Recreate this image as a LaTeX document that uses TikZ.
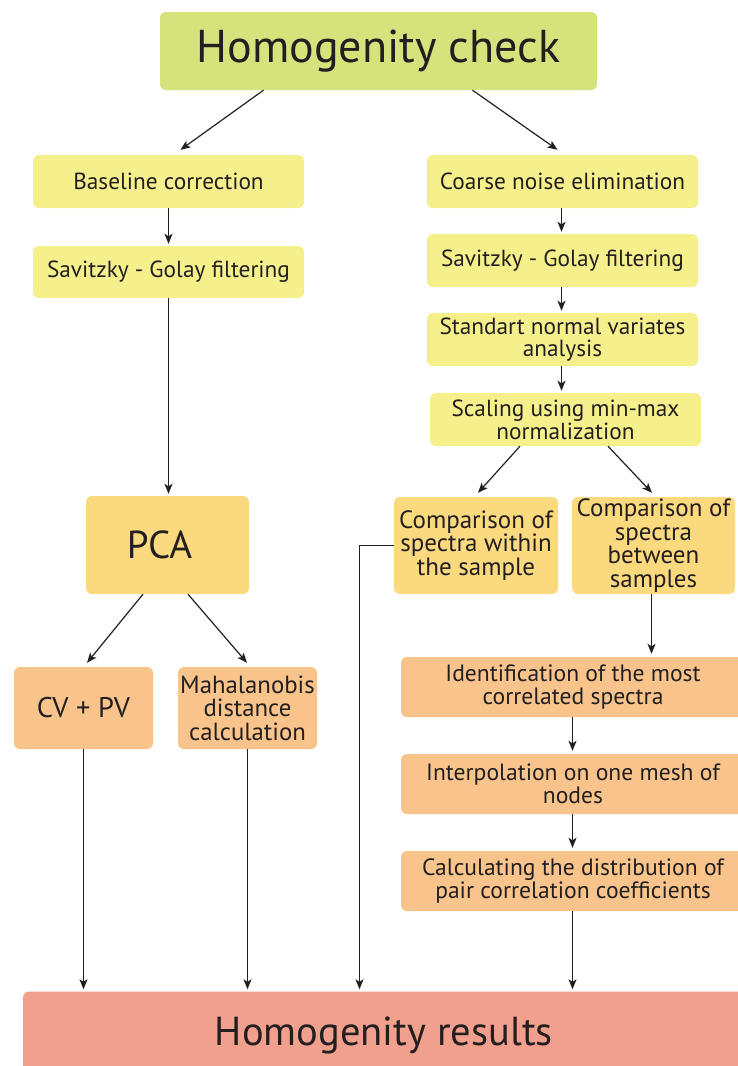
\documentclass[tikz,border=0pt]{standalone}
\usepackage{fontspec}
\setmainfont{PT Sans}
\usetikzlibrary{calc,arrows.meta}
\definecolor{cTop}{HTML}{D6E27C}
\definecolor{cYel}{HTML}{F6F08C}
\definecolor{cOrY}{HTML}{FBD97F}
\definecolor{cOr}{HTML}{F8C48C}
\definecolor{cRes}{HTML}{F0A08C}
\definecolor{cTxt}{HTML}{231F20}
\definecolor{cLine}{HTML}{231F20}
\tikzset{
  box/.style={rounded corners=6pt, inner sep=0pt, align=center, text=cTxt, anchor=center},
  smallbox/.style={box, fill=cYel, minimum width=271pt, minimum height=53pt, font=\fontsize{23.3}{22.7}\selectfont},
  midbox/.style={box, fill=cOrY, minimum width=164pt, minimum height=97pt, font=\fontsize{25}{23.4}\selectfont},
  orbox/.style={box, fill=cOr, font=\fontsize{23.6}{22.7}\selectfont},
  arr/.style={draw=cLine, line width=1.2pt, -{Stealth[length=10pt,width=8pt,inset=2.5pt]}}
}
\begin{document}
\begin{tikzpicture}[x=1pt,y=-1pt]
\useasboundingbox (0,0) rectangle (737,1066);
\fill[white] (0,0) rectangle (737,1066);
% nodes
\node[box, fill=cTop, minimum width=437pt, minimum height=78pt, font=\fontsize{46}{50}\selectfont] (top) at (378.5,51) {Homogenity check};
\node[smallbox] (base) at (168.5,181.5) {Baseline correction};
\node[smallbox, minimum height=52pt] (savL) at (168.5,272) {Savitzky - Golay filtering};
\node[smallbox] (coarse) at (562.5,181.5) {Coarse noise elimination};
\node[smallbox] (savR) at (562.5,260.5) {Savitzky - Golay filtering};
\node[smallbox] (snv) at (562.5,339.5) {Standart normal variates\\analysis};
\node[smallbox] (scal) at (565.5,419.5) {Scaling using min-max\\normalization};
\node[box, fill=cOrY, minimum width=163pt, minimum height=98pt, font=\fontsize{39}{42}\selectfont] (pca) at (167.5,545) {\hspace*{-16pt}PCA};
\node[midbox] (within) at (476,545.5) {Comparison of\\spectra within\\the sample};
\node[midbox, minimum width=163pt] (between) at (653.5,545.5) {Comparison of\\spectra\\between\\samples};
\node[orbox, minimum width=139pt, minimum height=82pt, font=\fontsize{28.4}{30}\selectfont] (cvpv) at (83.5,708) {CV + PV};
\node[orbox, minimum width=139pt, minimum height=82pt, font=\fontsize{24.8}{23.4}\selectfont] (maha) at (247.5,708) {Mahalanobis\\distance\\calculation};
\node[orbox, minimum width=344pt, minimum height=60pt] (ident) at (573,687) {Identification of the most\\correlated spectra};
\node[orbox, minimum width=344pt, minimum height=60pt] (interp) at (573,784) {Interpolation on one mesh of\\nodes};
\node[orbox, minimum width=344pt, minimum height=60pt] (calc) at (573,881) {Calculating the distribution of\\pair correlation coefficients};
\node[box, fill=cRes, minimum width=722pt, minimum height=83pt, font=\fontsize{40.5}{44}\selectfont, text depth=0pt] (results) at (384,1033) {\raisebox{4pt}{Homogenity results}};
% helper coordinates for vertical drops
\coordinate (xL) at (168.5,0);
\coordinate (xR) at (561.5,0);
\coordinate (xB) at (651.5,0);
\coordinate (xC) at (572.5,0);
\coordinate (xW) at (359.5,0);
\coordinate (xCV) at (83.5,0);
\coordinate (xM) at (247.5,0);
% connectors
\draw[arr] ($(top.south)+(-115,0)$) -- ($(base.north)+(12,-5)$);
\draw[arr] ($(top.south)+(94,0)$) -- ($(coarse.north)+(-5,-5)$);
\draw[arr, shorten >=2pt] (xL |- base.south) -- (xL |- savL.north);
\draw[arr, shorten >=2pt] (xL |- savL.south) -- (xL |- pca.north);
\draw[arr, shorten >=2pt] (xR |- coarse.south) -- (xR |- savR.north);
\draw[arr, shorten >=2pt] (xR |- savR.south) -- (xR |- snv.north);
\draw[arr, shorten >=2pt] (xR |- snv.south) -- (xR |- scal.north);
\draw[arr] ($(scal.south)+(-45.5,0)$) -- ($(within.north)+(2,-4)$);
\draw[arr] ($(scal.south)+(42.5,0)$) -- ($(between.north)+(-1.5,-4)$);
\draw[arr, shorten >=2pt] (within.west) -| (xW |- results.north);
\draw[arr, shorten >=3pt] (xB |- between.south) -- (xB |- ident.north);
\draw[arr, shorten >=3pt] (xC |- ident.south) -- (xC |- interp.north);
\draw[arr, shorten >=3pt] (xC |- interp.south) -- (xC |- calc.north);
\draw[arr, shorten >=2pt] (xC |- calc.south) -- (xC |- results.north);
\draw[arr] ($(pca.south)+(-24.5,0)$) -- ($(cvpv.north)+(3.5,-4)$);
\draw[arr] ($(pca.south)+(20.5,0)$) -- ($(maha.north)+(-0.5,-4)$);
\draw[arr, shorten >=2pt] (xCV |- cvpv.south) -- (xCV |- results.north);
\draw[arr, shorten >=2pt] (xM |- maha.south) -- (xM |- results.north);
\end{tikzpicture}
\end{document}
